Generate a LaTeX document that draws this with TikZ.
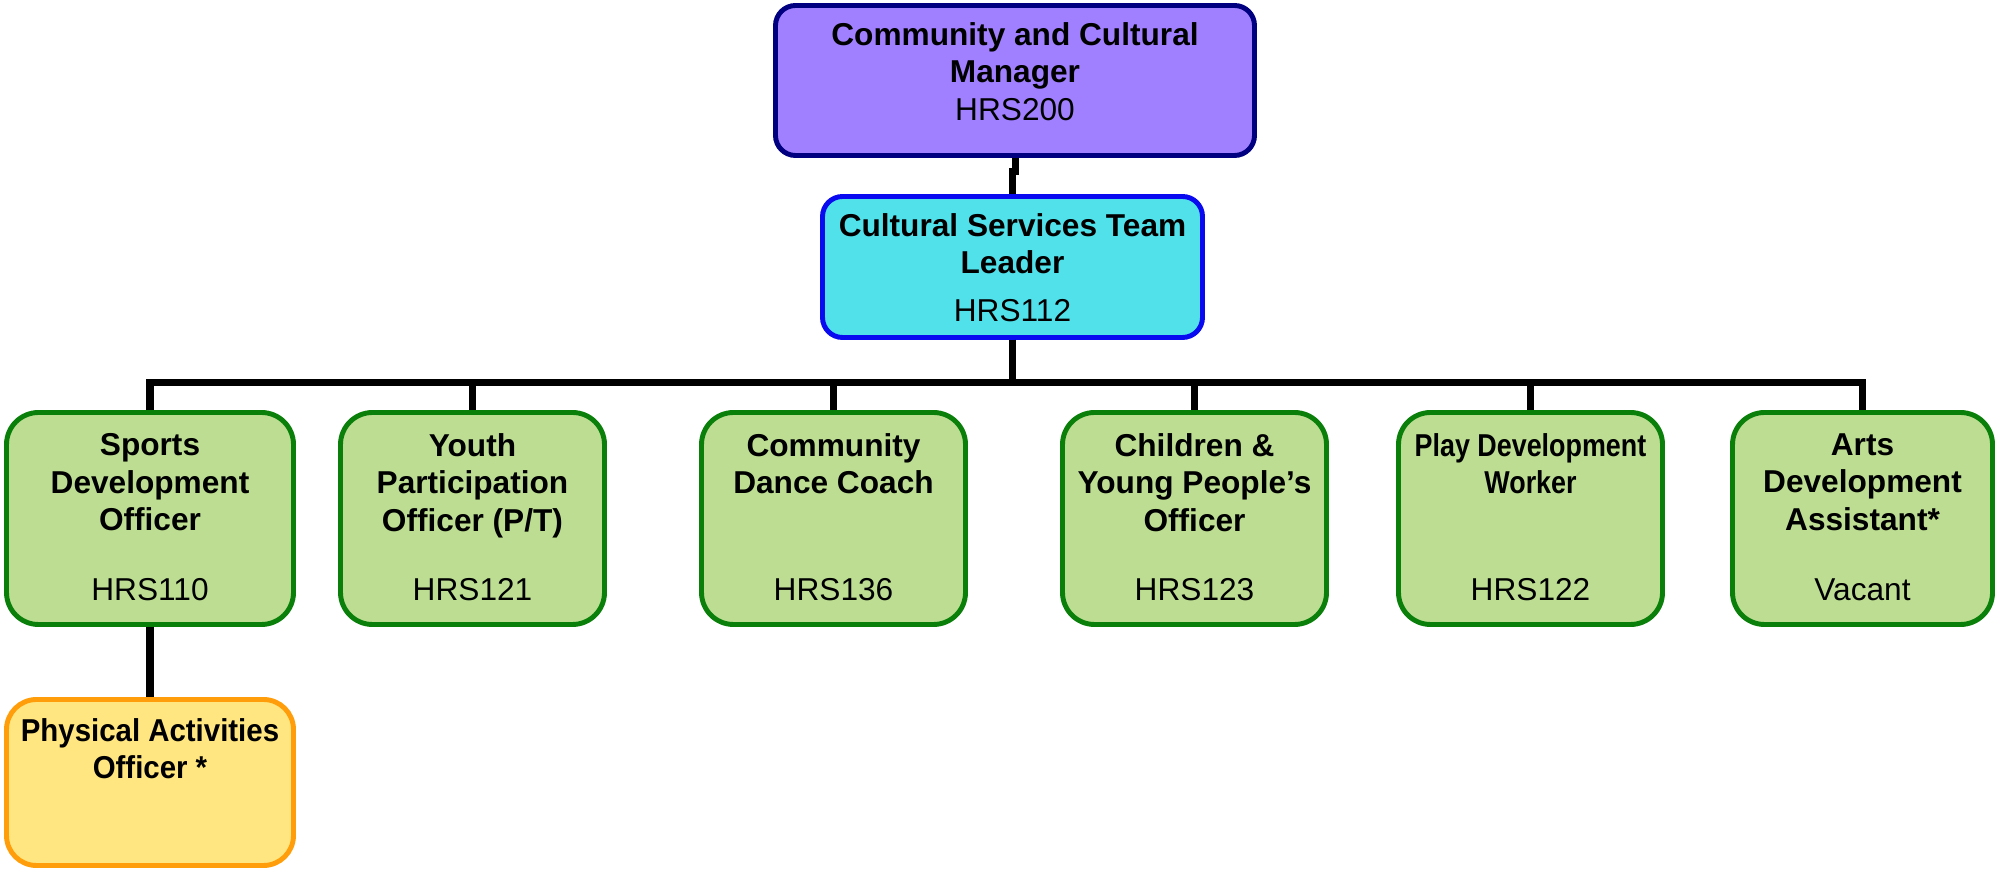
\documentclass[tikz,border=0pt]{standalone}
\usepackage{fontspec}
\setmainfont{Liberation Sans}
\newfontfamily\narrowfont[FakeStretch=0.85]{Liberation Sans}
\newfontfamily\tightfont[FakeStretch=0.93]{Liberation Sans}
\usetikzlibrary{positioning}
\definecolor{mgrFill}{HTML}{A080FF}
\definecolor{mgrLine}{HTML}{000080}
\definecolor{leadFill}{HTML}{50E1EB}
\definecolor{leadLine}{HTML}{0A0AF0}
\definecolor{offFill}{HTML}{BDDE92}
\definecolor{offLine}{HTML}{0A800A}
\definecolor{asstFill}{HTML}{FFE680}
\definecolor{asstLine}{HTML}{FF9E0A}

\begin{document}
\begin{tikzpicture}[
    font=\fontsize{9}{10.6}\selectfont,
    box/.style={line width=1.4pt, inner sep=0pt},
    mgrbox/.style={box, draw=mgrLine, fill=mgrFill, rounded corners=0.2cm,
                   minimum width=4.79cm, minimum height=1.5cm},
    leadbox/.style={box, draw=leadLine, fill=leadFill, rounded corners=0.2cm,
                    minimum width=3.8cm, minimum height=1.41cm},
    offbox/.style={box, draw=offLine, fill=offFill, rounded corners=0.32cm,
                   minimum width=2.64cm, minimum height=2.12cm},
    asstbox/.style={box, draw=asstLine, fill=asstFill, rounded corners=0.3cm,
                    minimum width=2.87cm, minimum height=1.66cm},
    ttl/.style={font=\fontsize{9}{10.6}\selectfont\bfseries, align=center, inner sep=0pt},
    code/.style={inner sep=0pt},
    link/.style={line width=2pt, black},
  ]
    \useasboundingbox (0,0) rectangle (19.98,-8.70);

    % manager and team leader
    \node[mgrbox] (mgr) at (10.15,-0.805) {};
    \node[leadbox] (lead) at (10.125,-2.67) {};

    % officers -- one row under the team leader
    \node[offbox, minimum width=2.87cm] (sdo) at (1.50,-5.185) {};
    \node[offbox] (ypo) at (4.725,-5.185) {};
    \node[offbox] (cdc) at (8.335,-5.185) {};
    \node[offbox] (cyp) at (11.945,-5.185) {};
    \node[offbox] (pdw) at (15.305,-5.185) {};
    \node[offbox, minimum width=2.60cm] (ada) at (18.625,-5.185) {};

    % assistant under sports development
    \node[asstbox] (pao) at (1.50,-7.825) {};

    % titles (top of each box)
    \node[ttl, below=0.19cm of mgr.north] (mgrT)
      {Community and Cultural\\Manager\\\textmd{HRS200}};
    \node[ttl, below=0.19cm of lead.north] (leadT) {Cultural Services Team\\Leader};
    \node[ttl, below=0.23cm of sdo.north] (sdoT) {Sports\\Development\\Officer};
    \node[ttl, below=0.23cm of ypo.north] (ypoT) {Youth\\Participation\\Officer (P/T)};
    \node[ttl, below=0.23cm of cdc.north] (cdcT) {Community\\Dance Coach};
    \node[ttl, below=0.23cm of cyp.north] (cypT) {Children \&\\Young People’s\\Officer};
    \node[ttl, below=0.23cm of pdw.north, font=\fontsize{9}{10.6}\narrowfont\bfseries] (pdwT)
      {Play Development\\Worker};
    \node[ttl, below=0.23cm of ada.north] (adaT) {Arts\\Development\\Assistant*};
    \node[ttl, below=0.21cm of pao.north, font=\fontsize{9}{10.6}\tightfont\bfseries] (paoT)
      {Physical Activities\\Officer *};

    % post codes (bottom of each box)
    \node[code, above=0.17cm of lead.south] (leadC) {HRS112};
    \node[code, above=0.25cm of sdo.south] (sdoC) {HRS110};
    \node[code, above=0.25cm of ypo.south] (ypoC) {HRS121};
    \node[code, above=0.25cm of cdc.south] (cdcC) {HRS136};
    \node[code, above=0.25cm of cyp.south] (cypC) {HRS123};
    \node[code, above=0.25cm of pdw.south] (pdwC) {HRS122};
    \node[code, above=0.25cm of ada.south] (adaC) {Vacant};

    % reporting lines
    \draw[link] (mgr.south) -- ++(0,-0.14) -| (lead.north);
    \foreach \post in {sdo,ypo,cdc,cyp,pdw,ada}
      \draw[link] (lead.south) -- ++(0,-0.43) -| (\post.north);
    \draw[link] (sdo.south) -- (pao.north);
  \end{tikzpicture}
\end{document}
